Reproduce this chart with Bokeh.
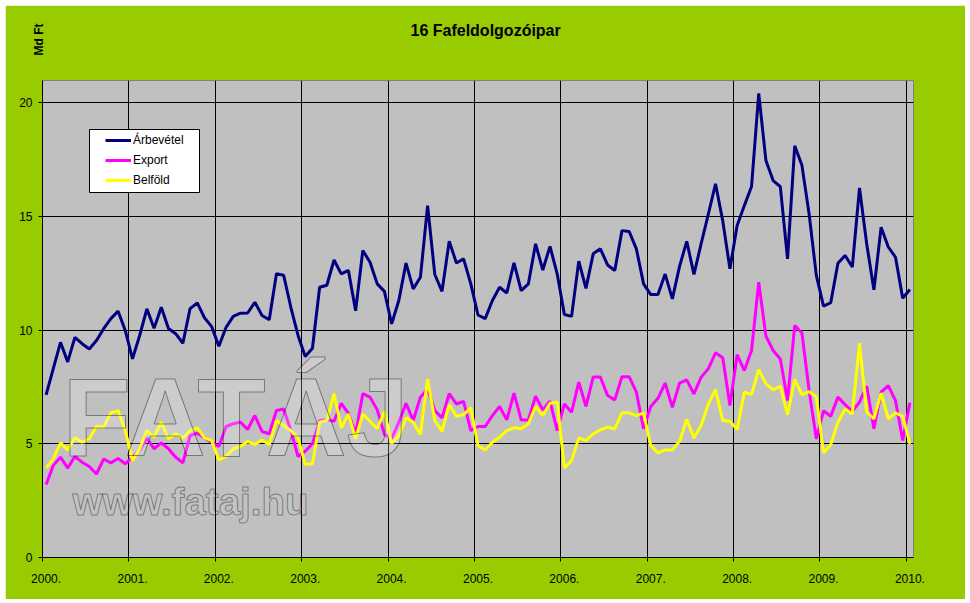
from bokeh.plotting import figure
from bokeh.models import FixedTicker, Label, Legend, LegendItem, BoxAnnotation, Range1d, Title
from bokeh.embed import file_html
from bokeh.resources import INLINE

title_text = "16 Fafeldolgozóipar"
unit_text = "Md Ft"
year_labels = ["2000.", "2001.", "2002.", "2003.", "2004.", "2005.", "2006.", "2007.", "2008.", "2009.", "2010."]
y_ticks = [0, 5, 10, 15, 20]

arbevetel = [
    7.15, 8.30, 9.46, 8.60, 9.68, 9.40, 9.17, 9.54, 10.06, 10.50, 10.83, 9.98,
    8.73, 9.76, 10.93, 10.08, 11.00, 10.07, 9.84, 9.42, 10.94, 11.19, 10.54, 10.15,
    9.29, 10.12, 10.60, 10.74, 10.75, 11.22, 10.64, 10.45, 12.47, 12.41, 11.00, 9.76,
    8.84, 9.20, 11.88, 11.97, 13.08, 12.47, 12.62, 10.85, 13.50, 12.98, 12.03, 11.70,
    10.27, 11.30, 12.94, 11.81, 12.32, 15.47, 12.44, 11.70, 13.90, 12.95, 13.13, 12.03,
    10.66, 10.50, 11.30, 11.88, 11.63, 12.95, 11.73, 12.03, 13.79, 12.64, 13.68, 12.47,
    10.68, 10.60, 13.03, 11.83, 13.35, 13.57, 12.86, 12.62, 14.37, 14.33, 13.57, 12.03,
    11.56, 11.56, 12.46, 11.37, 12.80, 13.90, 12.44, 13.80, 15.10, 16.43, 14.80, 12.69,
    14.60, 15.47, 16.31, 20.40, 17.45, 16.57, 16.30, 13.13, 18.10, 17.24, 15.10, 12.40,
    11.05, 11.20, 12.94, 13.28, 12.77, 16.25, 13.78, 11.77, 14.52, 13.65, 13.20, 11.40,
    11.78,
]
export = [
    3.21, 4.05, 4.41, 3.93, 4.44, 4.19, 4.00, 3.67, 4.33, 4.16, 4.35, 4.12,
    4.41, 4.73, 5.25, 4.78, 5.04, 4.78, 4.41, 4.16, 5.36, 5.46, 5.26, 5.07,
    4.88, 5.76, 5.88, 5.95, 5.63, 6.24, 5.54, 5.44, 6.46, 6.53, 5.58, 4.44,
    4.67, 5.00, 6.02, 6.05, 5.99, 6.78, 6.34, 5.44, 7.20, 7.05, 6.49, 5.41,
    5.22, 5.95, 6.78, 6.02, 7.05, 7.41, 6.46, 6.14, 7.20, 6.75, 6.86, 5.58,
    5.76, 5.76, 6.24, 6.64, 6.05, 7.23, 6.05, 6.05, 7.09, 6.49, 6.87, 5.58,
    6.75, 6.39, 7.71, 6.64, 7.93, 7.93, 7.12, 6.93, 7.95, 7.95, 7.27, 5.66,
    6.64, 7.00, 7.67, 6.60, 7.67, 7.81, 7.19, 7.93, 8.30, 9.00, 8.78, 6.68,
    8.92, 8.22, 9.10, 12.10, 9.73, 9.10, 8.73, 6.90, 10.20, 9.87, 7.34, 5.22,
    6.46, 6.21, 7.05, 6.72, 6.43, 6.83, 7.53, 5.66, 7.27, 7.56, 6.90, 5.14,
    6.80,
]
belfold = [
    3.94, 4.33, 5.04, 4.73, 5.26, 5.07, 5.22, 5.77, 5.73, 6.36, 6.46, 5.58,
    4.26, 4.78, 5.58, 5.29, 5.95, 5.22, 5.44, 5.25, 5.58, 5.70, 5.26, 5.14,
    4.29, 4.44, 4.78, 4.88, 5.11, 4.97, 5.17, 4.97, 6.02, 5.80, 5.58, 5.26,
    4.09, 4.12, 5.95, 6.02, 7.20, 5.70, 6.31, 5.22, 6.31, 5.99, 5.66, 6.42,
    5.02, 5.36, 6.14, 5.95, 5.41, 7.85, 6.02, 5.54, 6.73, 6.21, 6.28, 6.58,
    4.92, 4.73, 5.07, 5.29, 5.58, 5.70, 5.66, 5.88, 6.64, 6.24, 6.78, 6.83,
    3.94, 4.26, 5.26, 5.14, 5.44, 5.61, 5.73, 5.66, 6.36, 6.36, 6.24, 6.36,
    4.93, 4.60, 4.73, 4.73, 5.11, 6.07, 5.25, 5.80, 6.75, 7.38, 6.02, 5.99,
    5.63, 7.27, 7.16, 8.26, 7.63, 7.37, 7.53, 6.28, 7.82, 7.16, 7.29, 7.07,
    4.60, 4.96, 5.94, 6.53, 6.31, 9.42, 6.39, 6.10, 7.23, 6.10, 6.36, 6.21,
    5.00,
]
months = list(range(len(arbevetel)))

GREEN = "#99CC00"
FONT = "Liberation Sans"

p = figure(
    width=960, height=594, output_backend="svg", toolbar_location=None,
    x_range=Range1d(-0.5, 120.5), y_range=Range1d(0, 20.97),
    background_fill_color="#C0C0C0", border_fill_color=GREEN,
    min_border_left=37, min_border_right=52, min_border_top=75, min_border_bottom=42,
    margin=(5, 0, 0, 5),
)
p.outline_line_color = "#808080"

year_pos = [12 * i for i in range(len(year_labels))]
grid_pos = [12 * i - 0.5 for i in range(len(year_labels))]

ax = p.xaxis[0]
ax.ticker = FixedTicker(ticks=year_pos, minor_ticks=grid_pos)
ax.major_label_overrides = {k: v for k, v in zip(year_pos, year_labels)}
ax.major_tick_in = 0
ax.major_tick_out = 0
ax.minor_tick_in = 0
ax.minor_tick_out = 4
ax.minor_tick_line_color = "black"
ax.axis_line_color = "black"
ax.major_label_standoff = 12
ax.major_label_text_font = FONT
ax.major_label_text_font_size = "12px"
ax.major_label_text_color = "black"

ay = p.yaxis[0]
ay.ticker = FixedTicker(ticks=y_ticks)
ay.major_tick_in = 0
ay.major_tick_out = 4
ay.minor_tick_line_color = None
ay.axis_line_color = "black"
ay.major_label_standoff = 6
ay.major_label_text_font = FONT
ay.major_label_text_font_size = "12px"
ay.major_label_text_color = "black"

p.xgrid[0].ticker = FixedTicker(ticks=grid_pos)
p.ygrid[0].ticker = FixedTicker(ticks=y_ticks)
for g in (p.xgrid[0], p.ygrid[0]):
    g.grid_line_color = "black"
    g.grid_line_width = 1

r1 = p.line(months, arbevetel, line_color="#000080", line_width=3)
r2 = p.line(months, export, line_color="#FF00FF", line_width=3)
r3 = p.line(months, belfold, line_color="#FFFF00", line_width=3)

# watermark, above the lines (positions in px relative to the plot frame)
p.add_layout(Label(x=20, y=140, x_units="screen", y_units="screen", text="FATÁJ",
                   text_font=FONT, text_font_style="bold", text_font_size="112px",
                   text_color="rgba(255,255,255,0.2)", text_alpha=1, text_baseline="alphabetic",
                   text_outline_color="rgba(0,0,0,0.4)"))
p.add_layout(Label(x=30, y=56, x_units="screen", y_units="screen", text="www.fataj.hu",
                   text_font=FONT, text_font_style="bold", text_font_size="38.5px",
                   text_color="rgba(255,255,255,0.08)", text_alpha=1, text_baseline="alphabetic",
                   text_outline_color="rgba(0,0,0,0.4)"))

# legend box + legend
p.add_layout(BoxAnnotation(left=47, right=157, top=428, bottom=365,
                           left_units="screen", right_units="screen", top_units="screen", bottom_units="screen",
                           fill_color="white", fill_alpha=1, line_color="black", line_width=1, line_alpha=1))
legend = Legend(items=[LegendItem(label="Árbevétel", renderers=[r1]),
                       LegendItem(label="Export", renderers=[r2]),
                       LegendItem(label="Belföld", renderers=[r3])],
                location=(47, 351), orientation="vertical",
                padding=16, margin=0, spacing=0, glyph_width=26, glyph_height=20, label_height=20,
                label_standoff=2, label_text_font=FONT, label_text_font_size="12px", label_text_color="black",
                background_fill_alpha=0, border_line_alpha=0)
p.add_layout(legend)

p.title = Title(text=title_text, align="left", offset=368, standoff=19,
                text_font=FONT, text_font_style="bold", text_font_size="16px", text_color="black")
p.add_layout(Label(x=-4, y=25, x_units="screen", y_units="screen", text=unit_text, angle=90, angle_units="deg",
                   text_font=FONT, text_font_style="bold", text_font_size="12px",
                   text_color="black", text_baseline="middle"), "above")

open("out.html", "w").write(file_html(p, INLINE))
